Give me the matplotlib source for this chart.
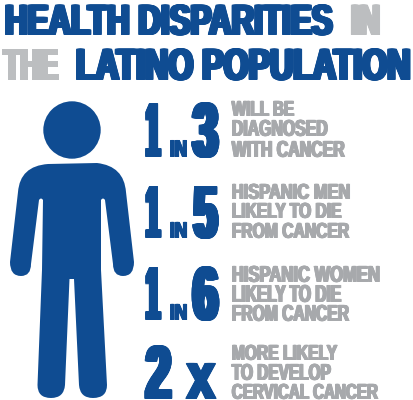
import matplotlib
matplotlib.use('Agg')
import matplotlib.pyplot as plt
from matplotlib.path import Path
from matplotlib.patches import PathPatch, Circle
from matplotlib.transforms import Affine2D
import matplotlib.patheffects as pe
import numpy as np

BLUE = '#0F4C92'
GRAY = '#A7A9AC'
LGRAY = '#BCBEC0'
FONT = 'Liberation Sans'

title_parts = [("HEALTH DISPARITIES", 3, 335, 3, 35, BLUE), ("IN", 349, 382, 3, 35, LGRAY),
               ("THE", 2, 60, 47, 80, LGRAY), ("LATINO POPULATION", 74, 413, 47, 80, BLUE)]
numerals = [("1", 144, 162, 100, 157), ("3", 190, 221, 100, 157),
            ("1", 144, 162, 183, 238), ("5", 191, 220, 183, 238),
            ("1", 144, 162, 264, 320), ("6", 190, 221, 264, 320),
            ("2", 143, 174, 343, 399), ("x", 185, 217, 363, 399)]
in_labels = [("IN", 169, 188, 139, 157), ("IN", 169, 188, 221, 238), ("IN", 169, 188, 303, 320)]
captions = [("WILL BE", 231, 295, 100, 116), ("DIAGNOSED", 231, 328, 119, 136), ("WITH CANCER", 231, 345, 140, 157),
            ("HISPANIC MEN", 231, 351, 183, 199), ("LIKELY TO DIE", 231, 342, 202, 218), ("FROM CANCER", 231, 349, 222, 238),
            ("HISPANIC WOMEN", 231, 381, 265, 282), ("LIKELY TO DIE", 231, 342, 284, 302), ("FROM CANCER", 231, 349, 304, 321),
            ("MORE LIKELY", 231, 337, 344, 360), ("TO DEVELOP", 231, 331, 363, 380), ("CERVICAL CANCER", 231, 378, 383, 399)]

fig = plt.figure(figsize=(4.14, 4.00), dpi=100, facecolor='white')
ax = fig.add_axes([0, 0, 1, 1])
ax.set_xlim(0, 414); ax.set_ylim(400, 0); ax.axis('off')

ax.add_patch(Circle((72, 130), 28.7, fc=BLUE, ec='none'))
M, L, C, Z = Path.MOVETO, Path.LINETO, Path.CURVE3, Path.CLOSEPOLY
body = [
    (M,(48,164)),(C,(20,166)),(C,(18,192)),(L,(10,262)),(C,(10,276)),(C,(21,276)),(C,(31,276)),(C,(31,264)),
    (L,(39,200)),(C,(41,197)),(C,(43,200)),(L,(42,270)),(L,(37.5,385)),(C,(37.5,398)),(C,(51,398)),(C,(64,398)),(C,(65,385)),
    (L,(69.5,279)),(L,(74,279)),(L,(79,385)),(C,(80,398)),(C,(93,398)),(C,(107,398)),(C,(107,385)),
    (L,(101,270)),(L,(101,200)),(C,(103,197)),(C,(105,200)),(L,(113,264)),(C,(113,276)),(C,(123,276)),(C,(134,276)),(C,(134,262)),
    (L,(126,192)),(C,(124,166)),(C,(97,163)),(L,(48,164)),(Z,(48,164)),
]
ax.add_patch(PathPatch(Path([p for _, p in body], [c for c, _ in body]), fc=BLUE, ec='none'))


class Condense(pe.AbstractPathEffect):
    """Stretch the glyphs vertically and thicken their strokes, as a condensed bold face."""
    def __init__(self, sx, sy, d, dv, shift):
        super().__init__()
        self.sx, self.sy, self.d, self.dv, self.shift = sx, sy, d, dv, shift

    def draw_path(self, renderer, gc, tpath, affine, rgbFace=None):
        nx = max(3, int(2 * self.d / 0.5) + 1)
        ny = max(2, int(2 * self.dv / 0.5) + 1)
        base = Affine2D().scale(self.sx, self.sy) + affine
        for dy in np.linspace(0, 2 * self.dv, ny):
            for dx in np.linspace(0, 2 * self.d, nx):
                renderer.draw_path(gc, tpath, base + Affine2D().translate(dx, dy - self.shift), rgbFace)


fig.canvas.draw()
rend = fig.canvas.get_renderer()


def put(s, x0, x1, yt, yb, col, weight, vweight):
    h = yb - yt
    ratio = 0.528 if s == 'x' else 0.729
    d = weight * h
    dv = vweight * h
    target = x1 - x0 - 2 * d
    t = ax.text(x0, yb, s, color=col, fontsize=10, family=FONT, fontweight='bold', ha='left', va='baseline')
    fs = 10 * target / t.get_window_extent(rend).width
    t.set_fontsize(fs)
    bb = t.get_window_extent(rend)
    shift = max(0.0, 1.0 - bb.y0)   # keep the layout box of the bottom row on the canvas
    t.set_y(yb - shift)
    glyph_h = ratio * fs / 0.72
    t.set_path_effects([Condense(target / bb.width, (h - 2 * dv) / glyph_h, d, dv, shift)])
    return t


for row in title_parts:
    put(*row, 0.062, 0.012)
for s, a, b, c, d in numerals:
    put(s, a, b, c, d, BLUE, 0.055, 0.01)
for s, a, b, c, d in in_labels:
    put(s, a, b, c, d, BLUE, 0.055, 0.01)
for s, a, b, c, d in captions:
    put(s, a, b, c, d, GRAY, 0.05, 0.01)
fig.savefig('out.png', dpi=100, facecolor='white')
